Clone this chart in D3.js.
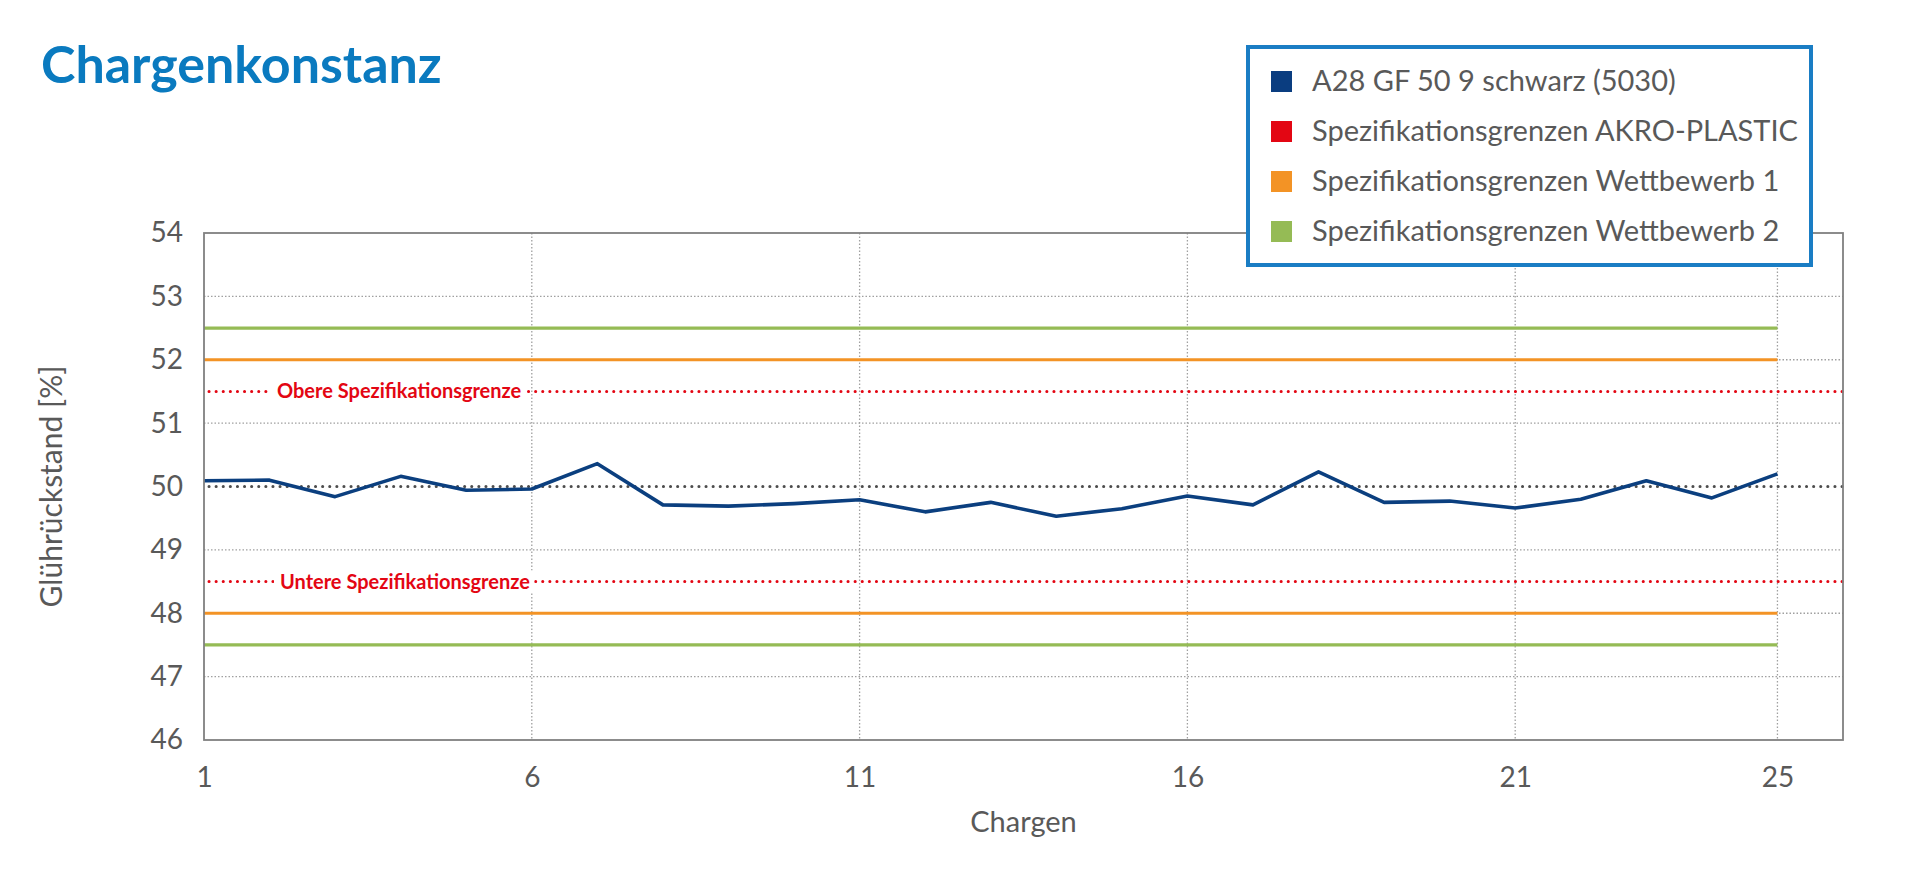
<!doctype html>
<html>
<head>
    <meta charset="UTF-8">
    <script src="https://d3js.org/d3.v7.min.js"></script>
    <title>Chargenkonstanz</title>
</head>
<body style="margin:0;background:#fff">

<style>
    text { font-family: Lato, "Open Sans", sans-serif; fill: #595959; }
</style>

<div id="graph"></div>

<script>
    // --- data ---
    var chargen = d3.range(1, 26);
    var gluehrueckstand = [50.09, 50.10, 49.84, 50.16, 49.94, 49.96, 50.36, 49.71, 49.69, 49.73,
                           49.79, 49.60, 49.75, 49.53, 49.65, 49.85, 49.71, 50.23, 49.75, 49.77,
                           49.66, 49.80, 50.09, 49.82, 50.20];
    var specAkro = [48.5, 51.5];
    var specWett1 = [48, 52];
    var specWett2 = [47.5, 52.5];
    var sollwert = 50;
    var yTicks = [46, 47, 48, 49, 50, 51, 52, 53, 54];
    var xTicks = [1, 6, 11, 16, 21, 25];
    var specLabels = ["Untere Spezifikationsgrenze", "Obere Spezifikationsgrenze"];
    var legendNames = ["A28 GF 50 9 schwarz (5030)", "Spezifikationsgrenzen AKRO-PLASTIC",
                       "Spezifikationsgrenzen Wettbewerb 1", "Spezifikationsgrenzen Wettbewerb 2"];
    var legendColors = ["#0a3d80", "#e30613", "#f39325", "#95bb55"];

    var w = 1920, h = 879;
    var pLeft = 204, pRight = 1843, pTop = 233, pBottom = 740;

    var vis = d3.select("#graph").append("svg")
            .attr("width", w)
            .attr("height", h);

    var x = d3.scaleLinear().domain([1, 26]).range([pLeft, pRight]);
    var y = d3.scaleLinear().domain([46, 54]).range([pBottom, pTop]);

    // title
    vis.append("text")
            .attr("x", 41).attr("y", 83)
            .style("font-weight", "bold")
            .style("font-size", "52px")
            .style("fill", "#0a7abf")
            .text("Chargenkonstanz");

    // gridlines
    vis.selectAll(".hgrid")
            .data(yTicks.filter(function(d) { return d != 46 && d != 54 && d != sollwert; }))
            .enter().append("line")
            .attr("x1", pLeft).attr("x2", pRight)
            .attr("y1", function(d) { return y(d); })
            .attr("y2", function(d) { return y(d); })
            .style("stroke", "#a0a0a0")
            .style("stroke-width", 1.3)
            .style("stroke-dasharray", "1.5 2");

    vis.selectAll(".vgrid")
            .data(xTicks.filter(function(d) { return d != 1; }))
            .enter().append("line")
            .attr("x1", function(d) { return x(d); })
            .attr("x2", function(d) { return x(d); })
            .attr("y1", pTop).attr("y2", pBottom)
            .style("stroke", "#a0a0a0")
            .style("stroke-width", 1.3)
            .style("stroke-dasharray", "1.5 2");

    // sollwert line
    vis.append("line")
            .attr("x1", x(1) + 5).attr("x2", pRight)
            .attr("y1", y(sollwert)).attr("y2", y(sollwert))
            .style("stroke", "#4d4d4d")
            .style("stroke-width", 3)
            .style("stroke-linecap", "round")
            .style("stroke-dasharray", "0.1 7");

    // spec lines competitors
    function specLine(vals, color) {
        vis.selectAll(null)
                .data(vals)
                .enter().append("line")
                .attr("x1", x(1)).attr("x2", x(25))
                .attr("y1", function(d) { return y(d); })
                .attr("y2", function(d) { return y(d); })
                .style("stroke", color)
                .style("stroke-width", 3.2);
    }
    specLine(specWett2, legendColors[3]);
    specLine(specWett1, legendColors[2]);

    // spec lines akro
    vis.selectAll(".akro")
            .data(specAkro)
            .enter().append("line")
            .attr("x1", x(1) + 5).attr("x2", pRight)
            .attr("y1", function(d) { return y(d); })
            .attr("y2", function(d) { return y(d); })
            .style("stroke", legendColors[1])
            .style("stroke-width", 3)
            .style("stroke-linecap", "round")
            .style("stroke-dasharray", "0.1 7");

    var lab = vis.selectAll(".speclab")
            .data(specAkro)
            .enter().append("g")
            .attr("transform", function(d, i) { return "translate(" + (x(1) + 76 - i * 3) + "," + y(d) + ")"; });
    var labRect = lab.append("rect")
            .style("fill", "#fff");
    var labText = lab.append("text")
            .attr("y", 7)
            .style("font-weight", "bold")
            .style("font-size", "20px")
            .style("fill", legendColors[1])
            .text(function(d, i) { return specLabels[i]; });
    labRect.each(function(d, i) {
        var bb = labText.nodes()[i].getBBox();
        d3.select(this)
                .attr("x", -6).attr("y", -11)
                .attr("width", bb.width + 10).attr("height", 22);
    });

    // data line
    var line = d3.line()
            .x(function(d, i) { return x(chargen[i]); })
            .y(function(d) { return y(d); });
    vis.append("path")
            .datum(gluehrueckstand)
            .attr("d", line)
            .style("fill", "none")
            .style("stroke", "#0b3f7f")
            .style("stroke-width", 3.6)
            .style("stroke-linejoin", "round");

    // frame
    vis.append("rect")
            .attr("x", pLeft).attr("y", pTop)
            .attr("width", pRight - pLeft).attr("height", pBottom - pTop)
            .style("fill", "none")
            .style("stroke", "#808080")
            .style("stroke-width", 1.8);

    // axes
    vis.append("g")
            .attr("transform", "translate(" + pLeft + ",0)")
            .call(d3.axisLeft(y).tickValues(yTicks).tickSize(0).tickPadding(21));
    vis.append("g")
            .attr("transform", "translate(0," + pBottom + ")")
            .call(d3.axisBottom(x).tickValues(xTicks).tickSize(0).tickPadding(27).tickFormat(d3.format("d")));
    vis.selectAll(".domain").remove();
    vis.selectAll(".tick text")
            .style("font-family", "Lato, sans-serif")
            .style("font-size", "28px")
            .style("fill", "#595959");

    // axis titles
    vis.append("text")
            .attr("transform", "translate(62," + ((pTop + pBottom) / 2) + ") rotate(-90)")
            .attr("text-anchor", "middle")
            .style("font-size", "30px")
            .text("Glührückstand [%]");
    vis.append("text")
            .attr("x", (pLeft + pRight) / 2).attr("y", 832)
            .attr("text-anchor", "middle")
            .style("font-size", "29px")
            .text("Chargen");

    // legend
    var lg = vis.append("g").attr("transform", "translate(1248,47)");
    lg.append("rect")
            .attr("width", 563).attr("height", 218)
            .style("fill", "#fff")
            .style("stroke", "#1a7dc4")
            .style("stroke-width", 4);
    var items = lg.selectAll(".item")
            .data(legendNames)
            .enter().append("g")
            .attr("transform", function(d, i) { return "translate(23," + (34 + i * 50) + ")"; });
    items.append("rect")
            .attr("x", 0).attr("y", -10)
            .attr("width", 21).attr("height", 21)
            .style("fill", function(d, i) { return legendColors[i]; });
    items.append("text")
            .attr("x", 41).attr("y", 10)
            .style("font-size", "29px")
            .text(function(d) { return d; });
</script>

</body>
</html>
